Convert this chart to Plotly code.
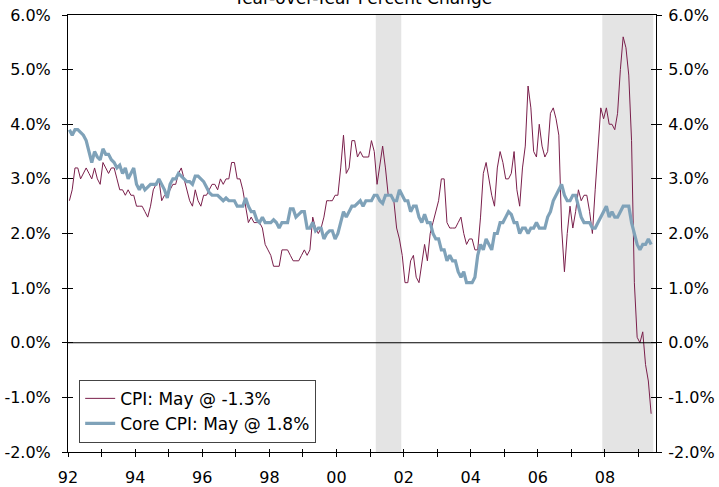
import plotly.graph_objects as go

# ---------------- data ----------------
start_year = 1992
cpi = [
    2.6, 2.8, 3.2, 3.2, 3.0, 3.1, 3.2, 3.1, 3.0, 3.2, 3.0, 2.9,   # 1992
    3.3, 3.2, 3.1, 3.2, 3.2, 3.0, 2.8, 2.8, 2.7, 2.8, 2.7, 2.7,   # 1993
    2.5, 2.5, 2.5, 2.4, 2.3, 2.5, 2.8, 2.9, 3.0, 2.6, 2.7, 2.7,   # 1994
    2.8, 2.9, 2.9, 3.1, 3.2, 3.0, 2.8, 2.6, 2.5, 2.8, 2.6, 2.5,   # 1995
    2.7, 2.7, 2.8, 2.9, 2.9, 2.8, 3.0, 2.9, 3.0, 3.0, 3.3, 3.3,   # 1996
    3.0, 3.0, 2.8, 2.5, 2.2, 2.3, 2.2, 2.2, 2.2, 2.1, 1.8, 1.7,   # 1997
    1.6, 1.4, 1.4, 1.4, 1.7, 1.7, 1.7, 1.6, 1.5, 1.5, 1.5, 1.6,   # 1998
    1.7, 1.6, 1.7, 2.3, 2.1, 2.0, 2.1, 2.3, 2.6, 2.6, 2.6, 2.7,   # 1999
    2.7, 3.2, 3.8, 3.1, 3.2, 3.7, 3.7, 3.4, 3.5, 3.4, 3.4, 3.4,   # 2000
    3.7, 3.5, 2.9, 3.3, 3.6, 3.2, 2.7, 2.7, 2.6, 2.1, 1.9, 1.6,   # 2001
    1.1, 1.1, 1.5, 1.6, 1.2, 1.1, 1.5, 1.8, 1.5, 2.0, 2.2, 2.4,   # 2002
    2.6, 3.0, 3.0, 2.2, 2.1, 2.1, 2.1, 2.2, 2.3, 2.0, 1.8, 1.9,   # 2003
    1.9, 1.7, 1.7, 2.3, 3.1, 3.3, 3.0, 2.7, 2.5, 3.2, 3.5, 3.3,   # 2004
    3.0, 3.0, 3.1, 3.5, 2.8, 2.5, 3.2, 3.6, 4.7, 4.3, 3.5, 3.4,   # 2005
    4.0, 3.6, 3.4, 3.5, 4.2, 4.3, 4.1, 3.8, 2.1, 1.3, 2.0, 2.5,   # 2006
    2.1, 2.4, 2.8, 2.6, 2.7, 2.7, 2.4, 2.0, 2.8, 3.5, 4.3, 4.1,   # 2007
    4.3, 4.0, 4.0, 3.9, 4.2, 5.0, 5.6, 5.4, 4.9, 3.7, 1.1, 0.1,   # 2008
    0.0, 0.2, -0.4, -0.7, -1.3,                                   # 2009
]
core_cpi = [
    3.9, 3.8, 3.9, 3.9, 3.85, 3.8, 3.7, 3.5, 3.3, 3.5, 3.4, 3.35,  # 1992
    3.55, 3.45, 3.45, 3.35, 3.3, 3.2, 3.25, 3.1, 3.2, 3.0, 3.1, 3.2,  # 1993
    2.9, 2.8, 2.9, 2.8, 2.85, 2.9, 2.9, 2.9, 3.0, 2.9, 2.8, 2.65,  # 1994
    2.9, 3.0, 3.0, 3.1, 3.05, 3.0, 2.95, 2.95, 2.9, 3.05, 3.05, 3.0,  # 1995
    2.95, 2.85, 2.75, 2.7, 2.7, 2.7, 2.65, 2.6, 2.65, 2.6, 2.6, 2.6,  # 1996
    2.5, 2.5, 2.5, 2.65, 2.5, 2.4, 2.4, 2.25, 2.2, 2.3, 2.2, 2.2,  # 1997
    2.2, 2.25, 2.2, 2.1, 2.2, 2.2, 2.2, 2.45, 2.45, 2.3, 2.35, 2.4,  # 1998
    2.4, 2.1, 2.1, 2.2, 2.05, 2.1, 2.1, 1.9, 2.0, 2.05, 2.05, 1.9,  # 1999
    2.0, 2.2, 2.4, 2.3, 2.4, 2.5, 2.5, 2.55, 2.6, 2.5, 2.6, 2.6,  # 2000
    2.6, 2.7, 2.7, 2.6, 2.55, 2.7, 2.7, 2.7, 2.6, 2.6, 2.8, 2.7,  # 2001
    2.6, 2.6, 2.4, 2.5, 2.5, 2.3, 2.2, 2.35, 2.2, 2.2, 2.0, 1.9,  # 2002
    1.9, 1.7, 1.7, 1.5, 1.6, 1.5, 1.5, 1.3, 1.2, 1.3, 1.1, 1.1,  # 2003
    1.1, 1.2, 1.6, 1.8, 1.7, 1.9, 1.8, 1.7, 2.0, 2.0, 2.2, 2.2,  # 2004
    2.3, 2.4, 2.35, 2.2, 2.2, 2.0, 2.1, 2.1, 2.0, 2.1, 2.1, 2.2,  # 2005
    2.1, 2.1, 2.1, 2.3, 2.4, 2.6, 2.7, 2.8, 2.9, 2.7, 2.6, 2.6,  # 2006
    2.7, 2.7, 2.5, 2.3, 2.2, 2.2, 2.2, 2.1, 2.1, 2.2, 2.3, 2.4,  # 2007
    2.5, 2.3, 2.4, 2.3, 2.3, 2.4, 2.5, 2.5, 2.5, 2.2, 2.0, 1.8,  # 2008
    1.7, 1.8, 1.8, 1.9, 1.8,                                      # 2009
]
recession_starts = [2001.17, 2007.92]
recession_ends = [2001.93, 2009.44]
tick_years = list(range(1992, 2010))
tick_labels = [f"{y % 100:02d}" if y % 2 == 0 else "" for y in tick_years]
y_ticks = [-2, -1, 0, 1, 2, 3, 4, 5, 6]
y_tick_labels = [f"{v:.1f}%" for v in y_ticks]

dates = [start_year + (i + 0.5) / 12 for i in range(len(cpi))]

# ---------------- figure ----------------
FONT = "Verdana, DejaVu Sans, sans-serif"
MAROON = "#7A1F4B"
BLUE = "#7FA2B9"
XR = [1992, 2009.52]
YR = [-2, 6]

fig = go.Figure()
fig.add_trace(go.Scatter(x=dates, y=cpi, mode="lines", name="CPI: May @ -1.3%",
                         line=dict(color=MAROON, width=1)))
fig.add_trace(go.Scatter(x=dates, y=core_cpi, mode="lines", name="Core CPI: May @ 1.8%",
                         line=dict(color=BLUE, width=3.2)))

for s, e in zip(recession_starts, recession_ends):
    fig.add_shape(type="rect", xref="x", yref="paper", x0=s, x1=e, y0=0, y1=1,
                  fillcolor="#E4E4E4", line=dict(width=0), layer="below")

fig.add_shape(type="line", xref="paper", yref="y", x0=0, x1=1, y0=0, y1=0,
              line=dict(color="black", width=1))

# invisible helper traces so the overlay (tick-only) axes get drawn
for ya in ["y2", "y3", "y4"]:
    fig.add_trace(go.Scatter(x=[XR[0]], y=[0], xaxis="x2", yaxis=ya, mode="markers",
                             marker=dict(opacity=0), showlegend=False, hoverinfo="skip"))

tickfont = dict(family=FONT, size=16, color="black")

fig.update_layout(
    width=719, height=487,
    margin=dict(l=68, r=63, t=15, b=35, autoexpand=False),
    paper_bgcolor="white", plot_bgcolor="white",
    showlegend=True,
    legend=dict(x=0.019, y=0.021, xanchor="left", yanchor="bottom",
                bgcolor="white", bordercolor="#444", borderwidth=1,
                font=dict(family=FONT, size=17, color="black"),
                itemwidth=30, tracegroupgap=0),
    xaxis=dict(range=XR, tickvals=tick_years, ticktext=tick_labels,
               ticks="outside", ticklen=4, tickcolor="black", tickwidth=1,
               showline=True, linecolor="black", linewidth=1, mirror=True,
               showgrid=False, zeroline=False, tickfont=tickfont,
               ticklabelstandoff=7, automargin=False),
    xaxis2=dict(range=XR, overlaying="x", tickvals=tick_years, ticks="inside",
                ticklen=3, tickcolor="black", showticklabels=False, showgrid=False,
                zeroline=False, showline=False, side="bottom", automargin=False),
    yaxis=dict(range=YR, tickvals=y_ticks, ticktext=y_tick_labels,
               ticks="outside", ticklen=5, tickcolor="black",
               showline=True, linecolor="black", linewidth=1,
               showgrid=False, zeroline=False, tickfont=tickfont,
               ticklabelstandoff=8, automargin=False),
    yaxis2=dict(range=YR, overlaying="y", side="right", tickvals=y_ticks,
                ticktext=y_tick_labels, ticks="outside", ticklen=5,
                tickcolor="black", showline=True, linecolor="black", linewidth=1,
                showgrid=False, zeroline=False, tickfont=tickfont,
                ticklabelstandoff=3, automargin=False),
    yaxis3=dict(range=YR, overlaying="y", side="left", tickvals=y_ticks,
                ticks="inside", ticklen=5, tickcolor="black", showticklabels=False,
                showgrid=False, zeroline=False, showline=False, automargin=False),
    yaxis4=dict(range=YR, overlaying="y", side="right", tickvals=y_ticks,
                ticks="inside", ticklen=5, tickcolor="black", showticklabels=False,
                showgrid=False, zeroline=False, showline=False, automargin=False),
    annotations=[dict(text="Year-over-Year Percent Change", xref="paper", yref="paper",
                      x=0.5, y=1, xanchor="center", yanchor="bottom", yshift=5,
                      showarrow=False, font=dict(family=FONT, size=17, color="black"))],
)

fig.write_html(
    "out.html",
    config={"displayModeBar": False},
    post_script="document.body.style.margin='0';document.body.style.overflow='hidden';",
)
